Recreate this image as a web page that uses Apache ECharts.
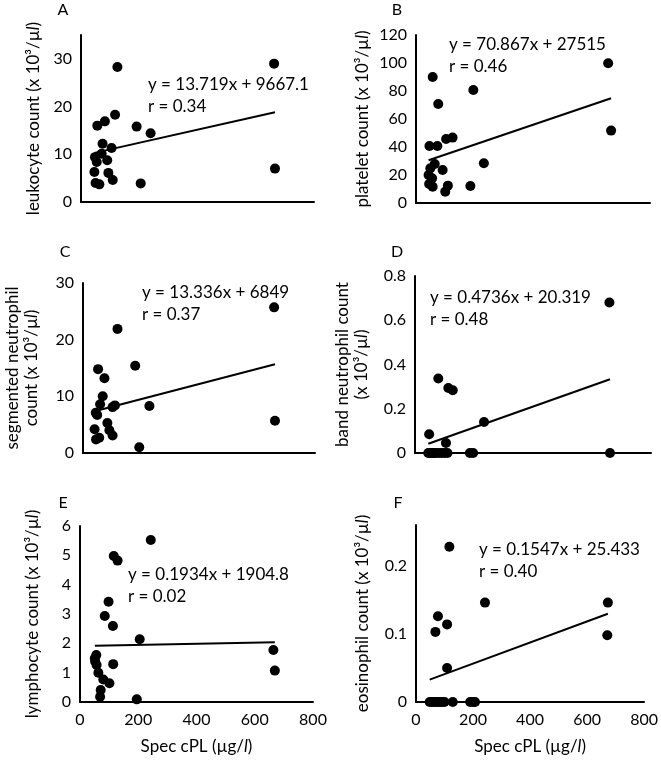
<!DOCTYPE html>
<html>
<head>
<meta charset="utf-8">
<script src="https://cdn.jsdelivr.net/npm/echarts@6/dist/echarts.min.js"></script>
<style>html,body{margin:0;padding:0;background:#fff}#c{width:661px;height:766px}</style>
</head>
<body>
<div id="c"></div>
<script>
// ---- data (Spec cPL in µg/l, counts in 10^3/µl) ----
const leukX = [48,54,71,90,56,82,74,105,117,125,191,239,46,94,109,50,63,205,663,666];
const leukY = [9.4,8.4,10.1,8.75,16.0,16.9,12.2,11.3,18.3,28.3,15.8,14.4,6.3,6.1,4.6,4.0,3.7,3.9,29.0,7.0];
const pltX = [57,76,196,46,73,103,125,64,49,91,232,43,55,45,57,100,109,186,657,667];
const pltY = [90,70.7,80.7,40.7,40.7,45.7,46.7,27.9,24.8,23.6,28.4,20,17.6,13.6,11.6,8.1,12.4,12.1,99.8,51.7];
const segX = [119,52,74,180,68,59,44,49,102,110,229,40,84,91,102,45,56,194,659,662];
const segY = [21.9,14.8,13.2,15.4,10.0,8.6,7.1,6.7,8.1,8.4,8.3,4.2,5.3,4.0,3.1,2.4,2.7,1.0,25.7,5.7];
const bandX = [659,79,113,128,234,48,105,45,50,55,60,65,70,80,90,100,110,186,197,661];
const bandY = [0.68,0.337,0.294,0.284,0.14,0.085,0.045,0,0,0,0,0,0,0,0,0,0,0,0,0];
const lymX = [243,116,129,98,85,113,205,56,51,57,63,80,101,71,69,195,114,664,669,52];
const lymY = [5.52,4.98,4.82,3.42,2.93,2.59,2.14,1.60,1.49,1.26,1.0,0.77,0.64,0.41,0.18,0.09,1.29,1.77,1.07,1.38];
const eosX = [117,242,77,109,68,109,673,671,48,55,62,70,78,85,92,100,129,190,200,207];
const eosY = [0.228,0.146,0.126,0.114,0.103,0.050,0.146,0.098,0,0,0,0,0,0,0,0,0,0,0,0];

// regression equations as printed (per µl): y = slope*x + intercept
const slopes = [13.719, 70.867, 13.336, 0.4736, 0.1934, 0.1547];
const intercepts = [9667.1, 27515, 6849, 20.319, 1904.8, 25.433];
const eqTexts = ['y = 13.719x + 9667.1','y = 70.867x + 27515','y = 13.336x + 6849','y = 0.4736x + 20.319','y = 0.1934x + 1904.8','y = 0.1547x + 25.433'];
const rTexts = ['r = 0.34','r = 0.46','r = 0.37','r = 0.48','r = 0.02','r = 0.40'];
const panelLetters = ['A','B','C','D','E','F'];
const yTitles = [
  ['leukocyte count (x 10³/µ'],
  ['platelet count (x 10³/µ'],
  ['segmented neutrophil','count (x 10³/µ'],
  ['band neutrophil count','(x 10³/µ'],
  ['lymphocyte count (x 10³/µ'],
  ['eosinophil count (x 10³/µ']
];
const yMax = [35, 120, 30, 0.8, 6, 0.26];
const yStep = [10, 20, 10, 0.2, 1, 0.1];
const xTicks = [0, 200, 400, 600, 800];
const xTitle = 'Spec cPL (µg/';

const panelsX = [leukX, pltX, segX, bandX, lymX, eosX];
const panelsY = [leukY, pltY, segY, bandY, lymY, eosY];

// ---- layout ----
const grids = [
  {left:81, top:35, width:233, height:167},
  {left:416, top:35, width:234, height:168},
  {left:83, top:283, width:232, height:170},
  {left:415, top:276, width:236, height:177},
  {left:80, top:526, width:233, height:176},
  {left:416, top:525, width:235, height:177}
];
const nameGaps = [38, 44, 42, 44, 38, 44];
const eqPos = [[148,85],[449,45],[142,293],[430,298],[128,575],[479,550]];
const letterPos = [[63,10],[397,10],[65,252],[397,252],[63,503],[398,503]];

const FONT = 'Lato, "Noto Sans", sans-serif';
const chart = echarts.init(document.getElementById('c'), null, {renderer:'canvas'});

const option = {
  backgroundColor:'#fff',
  animation:false,
  grid: grids.map(g => Object.assign({containLabel:false}, g)),
  xAxis: [], yAxis: [], series: [], graphic: []
};

function fmt(v, step){
  const k = v/step;
  if (Math.abs(k - Math.round(k)) > 1e-6) return '';
  return String(parseFloat(v.toFixed(3)));
}

for (let i = 0; i < 6; i++) {
  const bottomRow = i >= 4;
  option.xAxis.push({
    type:'value', gridIndex:i, min:xTicks[0], max:xTicks[xTicks.length-1], interval:xTicks[1]-xTicks[0],
    axisLine:{show:true, onZero:false, lineStyle:{color:'#000', width:2}},
    axisTick:{show:false}, splitLine:{show:false},
    axisLabel:{show:bottomRow, color:'#000', fontSize:16, fontFamily:FONT, margin:10},
    name: bottomRow ? '{n|' + xTitle + '}{i|l}{n|)}' : '',
    nameLocation:'middle', nameGap:36,
    nameTextStyle:{rich:{n:{fontSize:17, fontFamily:FONT, color:'#000'}, i:{fontSize:17, fontFamily:FONT, color:'#000', fontStyle:'italic'}}}
  });
  const t = yTitles[i];
  let nm;
  if (t.length === 1) nm = '{n|' + t[0] + '}{i|l}{n|)}';
  else nm = '{n|' + t[0] + '}\n{n|' + t[1] + '}{i|l}{n|)}';
  const step = yStep[i];
  option.yAxis.push({
    type:'value', gridIndex:i, min:0, max:yMax[i], interval:step,
    axisLine:{show:true, lineStyle:{color:'#000', width:2}},
    axisTick:{show:false}, splitLine:{show:false},
    axisLabel:{color:'#000', fontSize:16, fontFamily:FONT, margin:9, formatter:(v)=>fmt(v, step)},
    name:nm, nameLocation:'middle', nameGap:nameGaps[i],
    nameTextStyle:{rich:{n:{fontSize:17, fontFamily:FONT, color:'#000', lineHeight:19}, i:{fontSize:17, fontFamily:FONT, color:'#000', fontStyle:'italic', lineHeight:19}}}
  });
  const xs = panelsX[i], ys = panelsY[i];
  option.series.push({
    type:'scatter', xAxisIndex:i, yAxisIndex:i, symbol:'circle', symbolSize:10,
    itemStyle:{color:'#000', opacity:1}, z:3,
    data: xs.map((x,k)=>[x, ys[k]])
  });
  const x0 = Math.min(...xs), x1 = Math.max(...xs);
  const f = x => (slopes[i]*x + intercepts[i]) / 1000;
  option.series.push({
    type:'line', xAxisIndex:i, yAxisIndex:i, symbol:'none', z:2,
    lineStyle:{color:'#000', width:2},
    data:[[x0, f(x0)], [x1, f(x1)]]
  });
  option.graphic.push({
    type:'text', x:eqPos[i][0], y:eqPos[i][1],
    style:{text:eqTexts[i], font:'17px ' + FONT, fill:'#000', verticalAlign:'middle', textVerticalAlign:'middle'}
  });
  option.graphic.push({
    type:'text', x:eqPos[i][0], y:eqPos[i][1] + 22,
    style:{text:rTexts[i], font:'17px ' + FONT, fill:'#000', verticalAlign:'middle', textVerticalAlign:'middle'}
  });
  option.graphic.push({
    type:'text', x:letterPos[i][0], y:letterPos[i][1],
    style:{text:panelLetters[i], font:'16px ' + FONT, fill:'#000', align:'center', textAlign:'center', verticalAlign:'middle', textVerticalAlign:'middle'}
  });
}

chart.setOption(option);
</script>
</body>
</html>
